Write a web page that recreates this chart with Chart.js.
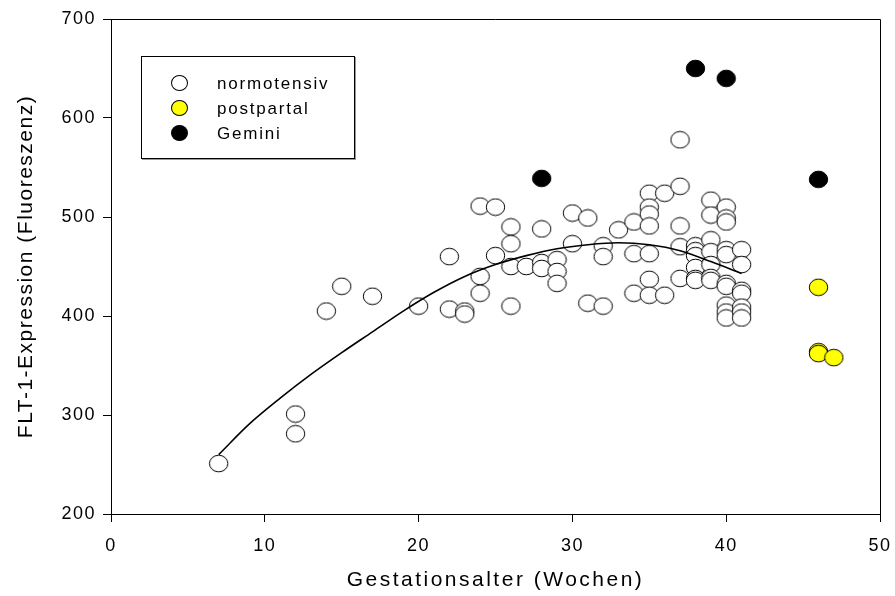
<!DOCTYPE html>
<html>
<head>
<meta charset="utf-8">
<script src="https://cdn.jsdelivr.net/npm/chart.js@4.4.0/dist/chart.umd.min.js"></script>
<style>
  html, body { margin: 0; padding: 0; background: #fff; }
  #wrap { position: relative; width: 895px; height: 596px; }
  #legend {
    position: absolute; left: 141px; top: 56px; width: 212px; height: 101px;
    border: 1px solid #000; box-shadow: 1px 1px 0 #999; background: #fff;
    font-family: "Liberation Sans", Arial, sans-serif; font-size: 17px; letter-spacing: 1.8px; color: #000;
  }
  .item { position: absolute; left: 0; height: 20px; line-height: 20px; }
  .dot { position: absolute; left: 29px; top: 1px; width: 17px; height: 16px; border: 1px solid #000; border-radius: 50%; box-sizing: border-box; }
  .lbl { position: absolute; left: 75px; top: 0; white-space: nowrap; }
</style>
</head>
<body>
<div id="wrap">
  <canvas id="chart" width="895" height="596"></canvas>
  <div id="legend"></div>
</div>
<script>
// normotensive pregnancies
const normWeeks = [7, 12, 12, 14, 15, 17, 20, 22, 22, 23, 23, 24, 24, 24, 25, 25,
  26, 26, 26, 26, 27, 28, 28, 28, 29, 29, 29, 30, 30, 31, 31, 32, 32, 32, 33,
  34, 34, 34, 35, 35, 35, 35, 35, 35, 35, 36, 36, 37, 37, 37, 37, 37,
  38, 38, 38, 38, 38, 38, 39, 39, 39, 39, 39, 39, 39,
  40, 40, 40, 40, 40, 40, 40, 40, 40, 40, 41, 41, 41, 41, 41, 41, 41];
const normValues = [251, 301, 281, 405, 430, 420, 410, 460, 407, 405, 402, 511, 440, 423, 510, 461,
  490, 473, 450, 410, 450, 488, 454, 448, 457, 445, 433, 504, 473, 499, 413, 471, 460, 410, 487,
  495, 463, 423, 524, 510, 503, 491, 463, 437, 421, 524, 421, 578, 531, 491, 470, 438,
  471, 466, 461, 449, 438, 436, 517, 502, 477, 465, 452, 439, 436,
  510, 499, 495, 467, 462, 433, 430, 411, 404, 398, 467, 452, 426, 423, 409, 404, 398];

// postpartum samples
const postWeeks = [46, 46, 46, 47];
const postValues = [429, 364, 362, 358];

// twin pregnancies
const twinWeeks = [28, 38, 40, 46];
const twinValues = [539, 650, 640, 538];

// regression curve for the normotensive group
const curveWeeks = [7, 9, 11, 13, 15, 17, 19, 21, 23, 25, 27, 29, 31, 33, 35, 37, 39, 41];
const curveValues = [260, 291, 317, 341, 363, 384, 405, 424, 440, 452, 461, 468, 472, 474, 472, 466, 455, 443];

const xTicks = [0, 10, 20, 30, 40, 50];
const yTicks = [200, 300, 400, 500, 600, 700];

const FONT = '"Liberation Sans", Arial, sans-serif';

function pts(xs, ys) {
  return xs.map((x, i) => ({ x: x, y: ys[i] }));
}

// slightly flattened circles used as markers
function ellipseDot(fill) {
  const c = document.createElement('canvas');
  c.width = 21; c.height = 19;
  const g = c.getContext('2d');
  g.beginPath();
  g.ellipse(10.5, 9.5, 9.2, 8.3, 0, 0, Math.PI * 2);
  g.fillStyle = fill;
  g.fill();
  g.lineWidth = 1;
  g.strokeStyle = '#000';
  g.stroke();
  return c;
}

const series = [
  { label: 'normotensiv', color: '#ffffff', weeks: normWeeks, values: normValues },
  { label: 'postpartal', color: '#ffff00', weeks: postWeeks, values: postValues },
  { label: 'Gemini', color: '#000000', weeks: twinWeeks, values: twinValues }
];

const frame = {
  id: 'frame',
  beforeDraw(chart) {
    chart.ctx.letterSpacing = '1.5px';
  },
  afterDraw(chart) {
    const { ctx, chartArea: a } = chart;
    ctx.save();
    ctx.strokeStyle = '#000';
    ctx.lineWidth = 1;
    ctx.beginPath();
    ctx.moveTo(a.left, a.top + 0.5);
    ctx.lineTo(a.right + 0.5, a.top + 0.5);
    ctx.lineTo(a.right + 0.5, a.bottom);
    ctx.stroke();
    ctx.restore();
  }
};

// wider tracking on the x axis title only
function spacedTitle(scale) {
  const base = Object.getPrototypeOf(scale).drawTitle;
  scale.drawTitle = function () {
    const prev = this.ctx.letterSpacing;
    this.ctx.letterSpacing = '2.5px';
    base.call(this);
    this.ctx.letterSpacing = prev;
  };
}

Chart.defaults.font.family = FONT;
Chart.defaults.color = '#000';

const datasets = [{
  type: 'line',
  label: 'fit',
  data: pts(curveWeeks, curveValues),
  borderColor: '#000',
  borderWidth: 1.6,
  pointRadius: 0,
  fill: false,
  cubicInterpolationMode: 'monotone',
  order: 0
}].concat(series.map(s => ({
  label: s.label,
  data: pts(s.weeks, s.values),
  pointStyle: ellipseDot(s.color),
  pointRadius: 9,
  order: 1
})));

new Chart(document.getElementById('chart'), {
  type: 'scatter',
  data: { datasets: datasets },
  options: {
    responsive: false,
    animation: false,
    devicePixelRatio: 1,
    layout: { padding: { top: 19, right: 15, bottom: 0, left: 0 } },
    plugins: { legend: { display: false }, tooltip: { enabled: false } },
    scales: {
      x: {
        type: 'linear',
        min: 0, max: 50,
        afterBuildTicks: s => { s.ticks = xTicks.map(v => ({ value: v })); },
        afterFit: s => { s.height = 82; s.paddingLeft = 0; s.paddingRight = 0; },
        afterUpdate: spacedTitle,
        ticks: { font: { size: 18 }, padding: 13, color: '#000' },
        grid: { drawOnChartArea: false, drawTicks: true, tickLength: 8, color: '#000' },
        border: { color: '#000', width: 1 },
        title: { display: true, text: 'Gestationsalter (Wochen)', font: { size: 21 }, padding: { bottom: 3 } }
      },
      y: {
        min: 200, max: 700,
        afterBuildTicks: s => { s.ticks = yTicks.map(v => ({ value: v })); },
        afterFit: s => { s.width = 111; },
        ticks: { font: { size: 18 }, padding: 7, color: '#000' },
        grid: { drawOnChartArea: false, drawTicks: true, tickLength: 8, color: '#000' },
        border: { color: '#000', width: 1 },
        title: { display: true, text: 'FLT-1-Expression (Fluoreszenz)', font: { size: 21 }, padding: { top: 14 } }
      }
    }
  },
  plugins: [frame]
});

// legend box inside the plot
const legend = document.getElementById('legend');
series.forEach((s, i) => {
  const item = document.createElement('div');
  item.className = 'item';
  item.style.top = (17 + i * 25) + 'px';
  const dot = document.createElement('span');
  dot.className = 'dot';
  dot.style.background = s.color;
  const lbl = document.createElement('span');
  lbl.className = 'lbl';
  lbl.textContent = s.label;
  item.appendChild(dot);
  item.appendChild(lbl);
  legend.appendChild(item);
});
</script>
</body>
</html>
